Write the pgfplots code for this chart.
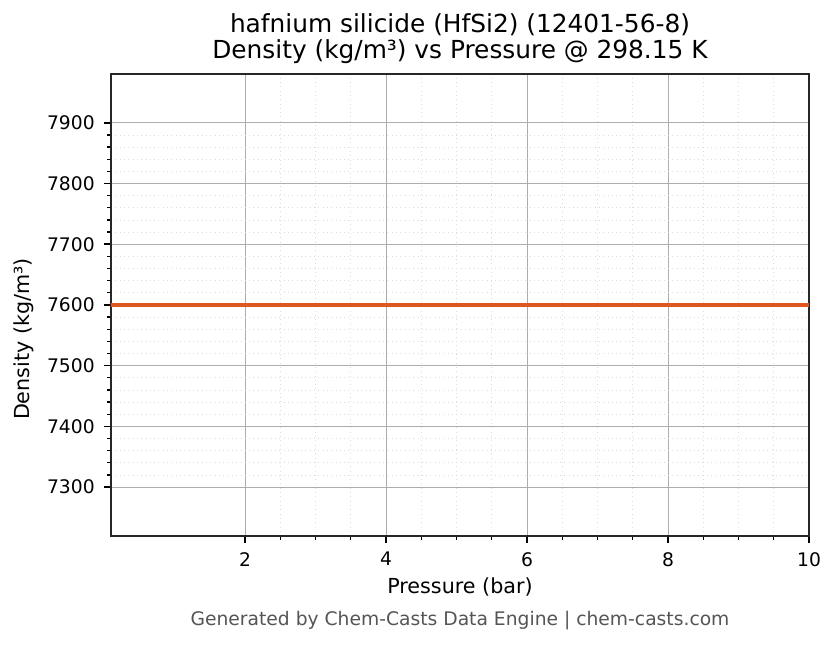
\documentclass[border=0pt]{standalone}
\usepackage{pgfplots}
\pgfplotsset{compat=1.18}
\usepackage{fontspec}
\setmainfont{DejaVu Sans}
\definecolor{lineorange}{RGB}{224,86,32}
\definecolor{footgray}{RGB}{85,85,85}
\begin{document}
\begin{tikzpicture}[x=0.5538bp,y=0.5538bp]
\path[use as bounding box] (0,0) rectangle (836,644);
\begin{axis}[
    at={(61.47bp,59.81bp)}, anchor=south west,
    scale only axis,
    width=386.6bp, height=255.9bp,
    xmin=0.1, xmax=10,
    ymin=7219.5, ymax=7980.5,
    xtick={2,4,6,8,10},
    ytick={7300,7400,7500,7600,7700,7800,7900},
    minor x tick num=3,
    minor y tick num=4,
    /pgf/number format/.cd, 1000 sep={}, assume math mode=true, /pgfplots/.cd,
    tick label style={font=\fontsize{10.4}{12}\selectfont},
    tick align=outside,
    major tick length=4bp,
    minor tick length=2.3bp,
    every major tick/.style={black, line width=0.9bp},
    every minor tick/.style={black, line width=0.7bp},
    xtick pos=bottom, ytick pos=left,
    grid=both,
    major grid style={color=black!32, line width=0.5bp},
    minor grid style={color=black!14, dotted, line width=0.4bp},
    axis line style={color=black!85, line width=0.9bp},
    xticklabel style={yshift=-1.5bp},
    yticklabel style={xshift=-1.5bp},
    clip=true,
]
\addplot[color=lineorange, line width=2.5bp] coordinates {
    (0.1,7600) (1,7600) (2,7600) (3,7600) (4,7600) (5,7600)
    (6,7600) (7,7600) (8,7600) (9,7600) (10,7600)
};
\end{axis}
\node[anchor=base, font=\fontsize{13.8}{16}\selectfont] at (460,611) {hafnium silicide (HfSi2) (12401-56-8)};
\node[anchor=base, font=\fontsize{13.8}{16}\selectfont] at (460,585) {Density (kg/m³) vs Pressure @ 298.15 K};
\node[anchor=base, font=\fontsize{11.5}{13}\selectfont] at (460,51) {Pressure (bar)};
\node[rotate=90, font=\fontsize{11.5}{13}\selectfont] at (24,305) {Density (kg/m³)};
\node[anchor=base, text=footgray, font=\fontsize{10.4}{12}\selectfont] at (460,19) {Generated by Chem-Casts Data Engine | chem-casts.com};
\end{tikzpicture}
\end{document}
